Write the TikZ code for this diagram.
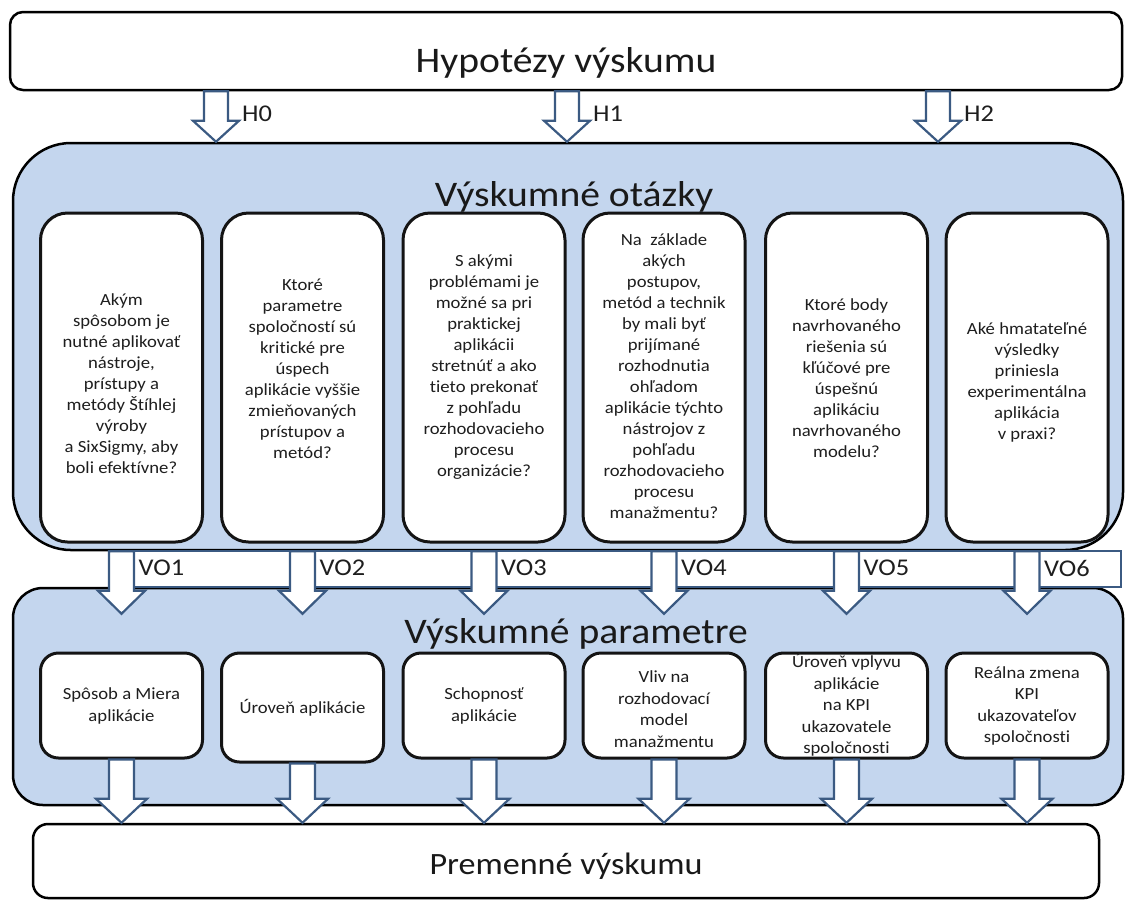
\documentclass[tikz,border=0pt]{standalone}
\usepackage{fontspec}
\setmainfont{Carlito}[FakeStretch=1.1, Ligatures=NoCommon]
\usetikzlibrary{calc}

\definecolor{panelblue}{HTML}{C4D6EE}
\definecolor{arrowline}{HTML}{3B5A82}
\definecolor{ink}{HTML}{1E1E1E}

% hollow block arrow: start, tip, shaft half width, head half width, head length
\newcommand{\blockarrow}[5]{%
  \draw[barrow] ($(#1)+(-#3,0)$) -- ($(#2)+(-#3,-#5)$) -- ($(#2)+(-#4,-#5)$) -- (#2)
    -- ($(#2)+(#4,-#5)$) -- ($(#2)+(#3,-#5)$) -- ($(#1)+(#3,0)$) -- cycle;}

\tikzset{
  panel/.style={draw=black, line width=2.5pt, fill=panelblue, inner sep=0pt},
  wbox/.style={draw=black, line width=2.5pt, fill=white, inner sep=0pt},
  qbox/.style={draw=black!92, line width=3pt, fill=white, rounded corners=27pt,
    minimum width=162pt, minimum height=329pt, inner sep=0pt},
  pbox/.style={draw=black!92, line width=3pt, fill=white, rounded corners=18pt,
    minimum width=162pt, minimum height=105pt, inner sep=0pt},
  qtext/.style={font=\fontsize{17}{21}\selectfont, text=ink, align=center, inner sep=0pt},
  ptext/.style={font=\fontsize{17}{21.5}\selectfont, text=ink, align=center, inner sep=0pt},
  title/.style={font=\fontsize{36}{40}\selectfont, text=black!90, anchor=base, inner sep=0pt},
  tag/.style={font=\fontsize{24}{28}\selectfont, text=ink, anchor=west, inner sep=0pt},
  tagbox/.style={draw=arrowline, line width=2pt, fill=white},
  barrow/.style={draw=arrowline, line width=2.2pt, fill=white, line join=miter},
}

\begin{document}
\begin{tikzpicture}[x=1pt, y=-1pt]
\useasboundingbox[fill=white] (0,0) rectangle (1126,906);

% top box
\node[wbox, rounded corners=13pt, minimum width=1112pt, minimum height=78pt] (hyp) at (566,51) {};
\node[title] at (566,72) {Hypotézy výskumu};

% research questions panel
\node[panel, rounded corners=58pt, minimum width=1110pt, minimum height=407pt] (vq) at (568,346.5) {};

\node[qbox] (q1) at (121.5,377.5) {};
\node[qbox] (q2) at (302.5,377.5) {};
\node[qbox] (q3) at (484,377.5) {};
\node[qbox] (q4) at (664,377.5) {};
\node[qbox] (q5) at (846.5,377.5) {};
\node[qbox] (q6) at (1027,377.5) {};
\node[title] at (574,206) {Výskumné otázky};

\node[qtext] at (121.5,383.5) {Akým\\spôsobom je\\nutné aplikovať\\nástroje,\\prístupy a\\metódy Štíhlej\\výroby\\a SixSigmy, aby\\boli efektívne?};
\node[qtext] at (302.5,369) {Ktoré\\parametre\\spoločností sú\\kritické pre\\úspech\\aplikácie vyššie\\zmieňovaných\\prístupov a\\metód?};
\node[qtext] at (484,367) {S akými\\problémami je\\možné sa pri\\praktickej\\aplikácii\\stretnúť a ako\\tieto prekonať\\z pohľadu\\rozhodovacieho\\procesu\\organizácie?};
\node[qtext] at (664,376) {Na\ \ základe\\akých\\postupov,\\metód a technik\\by mali byť\\prijímané\\rozhodnutia\\ohľadom\\aplikácie týchto\\nástrojov z\\pohľadu\\rozhodovacieho\\procesu\\manažmentu?};
\node[qtext] at (846.5,378) {Ktoré body\\navrhovaného\\riešenia sú\\kľúčové pre\\úspešnú\\aplikáciu\\navrhovaného\\modelu?};
\node[qtext] at (1027,382) {Aké hmatateľné\\výsledky\\priniesla\\experimentálna\\aplikácia\\v praxi?};

% research parameters panel
\node[panel, rounded corners=30pt, minimum width=1110pt, minimum height=217pt] (vp) at (568,696.5) {};
\node[title] at (576,643) {Výskumné parametre};

\node[pbox] (p1) at (121.5,705.5) {};
\node[pbox, minimum height=109pt] (p2) at (302.5,707.5) {};
\node[pbox] (p3) at (484,705.5) {};
\node[pbox] (p4) at (664,705.5) {};
\node[pbox] (p5) at (846.5,705.5) {};
\node[pbox] (p6) at (1027,705.5) {};

\node[ptext] at (121.5,706) {Spôsob a Miera\\aplikácie};
\node[ptext] at (302.5,708) {Úroveň aplikácie};
\node[ptext] at (484,706) {Schopnosť\\aplikácie};
\node[ptext] at (664,709) {Vliv na\\rozhodovací\\model\\manažmentu};
\node[ptext] at (846.5,705) {Úroveň vplyvu\\aplikácie\\na KPI\\ukazovatele\\spoločnosti};
\node[ptext] at (1027,706) {Reálna zmena\\KPI\\ukazovateľov\\spoločnosti};

% bottom box
\node[wbox, rounded corners=15pt, minimum width=1066pt, minimum height=74pt] (prem) at (566,861) {};
\node[title, font=\fontsize{31}{36}\selectfont] at (566,874) {Premenné výskumu};

% label strips between the panels
\coordinate (vo6end) at (1121,0);
\draw[tagbox] (q1.south |- vq.south) rectangle (q2.south |- vp.north);
\draw[tagbox] (q2.south |- vq.south) rectangle (q3.south |- vp.north);
\draw[tagbox] (q3.south |- vq.south) rectangle (q4.south |- vp.north);
\draw[tagbox] (q4.south |- vq.south) rectangle (q5.south |- vp.north);
\draw[tagbox] (q5.south |- vq.south) rectangle (q6.south |- vp.north);
\draw[tagbox] (q6.south |- vq.south) rectangle (vo6end |- vp.north);

% hypothesis arrows
\coordinate (h0) at (216,0);
\coordinate (h1) at (567,0);
\coordinate (h2) at (938,0);
\foreach \h in {h0,h1,h2}{
  \coordinate (\h s) at (\h |- hyp.south);
  \coordinate (\h t) at (\h |- vq.north);
  \blockarrow{\h s}{\h t}{12}{23}{21}
}
\node[tag] at ($(h0 |- 0,114)+(26,0)$) {H0};
\node[tag] at ($(h1 |- 0,114)+(26,0)$) {H1};
\node[tag] at ($(h2 |- 0,114)+(26,0)$) {H2};

% question arrows
\foreach \i in {1,...,6}{
  \coordinate (vs\i) at (q\i.south |- vq.south);
  \coordinate (vt\i) at ($(q\i.south |- vp.north)+(0,27)$);
  \blockarrow{vs\i}{vt\i}{12.5}{23.5}{23}
  \node[tag] at ($(q\i.south |- 0,568)+(17,0)$) {VO\i};
}

% parameter arrows
\foreach \i in {1,...,6}{
  \coordinate (ps\i) at (p\i.south);
  \coordinate (pt\i) at (p\i.south |- prem.north);
  \blockarrow{ps\i}{pt\i}{12.5}{25.5}{24}
}
\end{tikzpicture}
\end{document}
